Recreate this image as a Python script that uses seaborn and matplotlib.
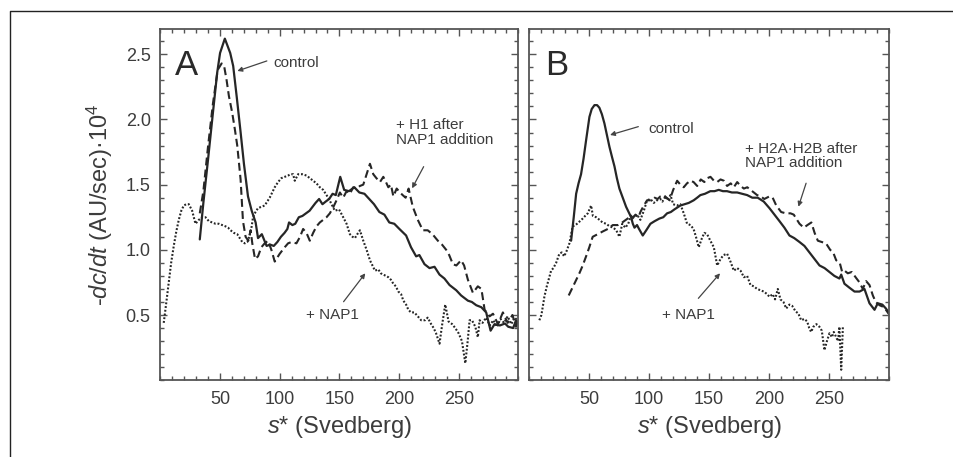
import numpy as np
import pandas as pd
import matplotlib
matplotlib.use("Agg")
import matplotlib.pyplot as plt
import seaborn as sns
from matplotlib.lines import Line2D
from matplotlib.ticker import MultipleLocator

# ---------------- data ----------------
A_ctrl_x = [33, 36, 40, 44, 47.6, 50, 54, 58.5, 61, 64, 67, 70, 73.4, 76.5, 79.8, 81.8, 85, 89, 92, 95,
            98, 101, 104, 106.4, 107.8, 110.6, 113, 116, 119, 122, 125, 127.5, 130, 133, 135.8, 138.5,
            141.4, 144.3, 147, 150.7, 154, 158, 162.5, 166.7, 171, 175, 179, 183.5, 187.7, 191.8, 196,
            200.3, 205.9, 210, 214.3, 217, 221.3, 225.5, 229.7, 233.9, 238, 242.3, 247.9, 252, 257.7,
            261, 264.7, 268.9, 273, 276.7, 280, 284.5, 288.8, 291.5, 295.6, 298, 300]
A_ctrl_y = [1.08, 1.36, 1.70, 2.05, 2.36, 2.51, 2.62, 2.51, 2.41, 2.17, 1.92, 1.66, 1.41, 1.30, 1.21, 1.09,
            1.12, 1.03, 1.04, 1.03, 1.06, 1.10, 1.13, 1.16, 1.21, 1.19, 1.20, 1.25, 1.26, 1.28, 1.30, 1.33,
            1.36, 1.39, 1.35, 1.37, 1.39, 1.43, 1.42, 1.56, 1.46, 1.45, 1.48, 1.44, 1.43, 1.39, 1.35, 1.29,
            1.27, 1.21, 1.20, 1.16, 1.11, 1.02, 0.95, 0.96, 0.89, 0.86, 0.87, 0.81, 0.78, 0.73, 0.69, 0.65,
            0.61, 0.60, 0.575, 0.56, 0.52, 0.38, 0.43, 0.42, 0.435, 0.41, 0.40, 0.46, 0.435]

A_dash_x = [33, 36, 40, 44, 48, 51.3, 53.4, 55.5, 57.4, 60.2, 62.3, 64.4, 67.2, 69.2, 71.4, 73.7, 75.6, 77,
            79.3, 81.8, 84.6, 87.4, 90.2, 93, 95.8, 100, 104.2, 107, 109.8, 114, 117, 119.6, 122.4, 125.2,
            128, 130.8, 133.6, 136.4, 139.2, 142, 145, 147.6, 150.4, 153.2, 156, 158.8, 161.6, 164.4,
            167.2, 170, 172.8, 175.6, 178.4, 181, 184, 186.8, 189, 191, 193.2, 195.2, 198, 200.8, 203,
            205.5, 208, 211.5, 215.7, 219.9, 224, 228, 232.5, 236, 239.5, 242, 245.1, 248, 252, 254.5,
            257.7, 261.9, 266, 269, 271.7, 275.9, 278.7, 282.9, 287, 291, 295, 298, 300]
A_dash_y = [1.28, 1.45, 1.80, 2.12, 2.38, 2.43, 2.41, 2.30, 2.18, 2.05, 1.93, 1.80, 1.54, 1.22, 1.10, 1.07,
            1.15, 1.05, 0.93, 0.95, 1.02, 1.05, 1.07, 1.00, 0.91, 0.97, 1.02, 1.05, 1.06, 1.05, 1.10, 1.16,
            1.13, 1.07, 1.13, 1.18, 1.21, 1.23, 1.25, 1.28, 1.33, 1.38, 1.44, 1.40, 1.45, 1.43, 1.48, 1.47,
            1.49, 1.50, 1.58, 1.66, 1.58, 1.55, 1.52, 1.56, 1.52, 1.48, 1.50, 1.41, 1.47, 1.44, 1.42, 1.40,
            1.47, 1.33, 1.23, 1.15, 1.15, 1.12, 1.07, 1.04, 1.00, 0.96, 0.89, 0.88, 0.92, 0.88, 0.77, 0.67,
            0.72, 0.70, 0.54, 0.49, 0.51, 0.43, 0.52, 0.44, 0.50, 0.41, 0.47]

A_dot_x = [2.8, 5, 7, 9, 11.2, 13.3, 15.4, 17.5, 19.6, 21.7, 23.8, 26.6, 29.4, 32.2, 35, 37.8, 40.6, 43.4,
           46.2, 49, 51.8, 54.6, 56.7, 58.8, 61.6, 64.4, 66.5, 68.6, 70.7, 72.8, 74.5, 76.5, 77.6, 79.7,
           81.8, 84.6, 87.4, 89.5, 91.6, 93.7, 95.8, 98.6, 101.4, 104.2, 107, 109.1, 111.2, 112.6, 115.4,
           118.9, 122.4, 125.2, 128, 130.8, 133.6, 136.4, 139.2, 141.3, 143.4, 146.2, 149.7, 153.2, 156,
           158.8, 161, 163, 165, 167.2, 170, 172.8, 175.6, 177.7, 179.8, 182.6, 184.7, 186.8, 189, 191,
           193.2, 195.2, 197.3, 199.4, 201.7, 203.6, 205.9, 207.8, 210, 212.8, 215.7, 218.5, 221.8, 224,
           226.9, 229, 231, 233.9, 236, 238.7, 241.5, 244.5, 247.1, 249.9, 252.7, 255.5, 257.5, 259.1,
           261.1, 263.9, 266, 267.5, 270, 273, 276, 279, 282, 285, 288, 291, 294, 297, 300]
A_dot_y = [0.44, 0.60, 0.75, 0.90, 1.03, 1.14, 1.23, 1.30, 1.34, 1.35, 1.35, 1.30, 1.20, 1.23, 1.25, 1.25,
           1.22, 1.21, 1.20, 1.20, 1.19, 1.18, 1.17, 1.15, 1.13, 1.12, 1.09, 1.06, 1.05, 1.06, 1.10, 1.18,
           1.25, 1.29, 1.32, 1.33, 1.34, 1.37, 1.40, 1.44, 1.48, 1.52, 1.55, 1.56, 1.57, 1.58, 1.58, 1.53,
           1.58, 1.58, 1.57, 1.55, 1.53, 1.51, 1.48, 1.46, 1.42, 1.39, 1.35, 1.30, 1.31, 1.25, 1.20, 1.12,
           1.10, 1.09, 1.12, 1.15, 1.07, 1.00, 0.92, 0.88, 0.84, 0.85, 0.82, 0.81, 0.80, 0.79, 0.77, 0.74,
           0.72, 0.68, 0.66, 0.61, 0.58, 0.54, 0.52, 0.52, 0.49, 0.46, 0.46, 0.48, 0.43, 0.40, 0.36, 0.28,
           0.42, 0.58, 0.45, 0.43, 0.40, 0.36, 0.30, 0.13, 0.30, 0.46, 0.46, 0.41, 0.33, 0.46, 0.44, 0.48,
           0.42, 0.46, 0.41, 0.47, 0.44, 0.49, 0.43, 0.48, 0.45]

B_ctrl_x = [34.8, 37, 39, 41, 43.1, 45.2, 47.3, 50.1, 52, 54.3, 56.5, 58.4, 60.5, 62.6, 64.7, 66.8, 69, 71,
            73, 75.1, 77.9, 80.7, 82.8, 84.9, 86.3, 87.7, 89.8, 91.5, 94.6, 97.5, 101, 104.5, 108.5, 111.7,
            114.9, 118, 121, 126, 129.5, 133, 137.1, 140, 142.7, 146.5, 151, 154.5, 158, 161.5, 164.9, 169,
            173.4, 177.5, 181.7, 186, 190.5, 195.6, 200.3, 204.5, 208.7, 212.8, 217, 221, 225.4, 229.5,
            233.7, 237.9, 242.1, 246.3, 250.4, 254.5, 258.7, 260.2, 262.9, 267, 271.3, 275.5, 279.6, 283.8,
            288, 290.7, 294.5, 297.5, 300.5]
B_ctrl_y = [1.07, 1.25, 1.43, 1.51, 1.58, 1.70, 1.84, 2.02, 2.08, 2.11, 2.11, 2.09, 2.04, 1.97, 1.88, 1.79,
            1.71, 1.64, 1.55, 1.47, 1.40, 1.33, 1.29, 1.25, 1.20, 1.17, 1.19, 1.16, 1.11, 1.15, 1.20, 1.22,
            1.24, 1.25, 1.28, 1.29, 1.31, 1.34, 1.35, 1.36, 1.38, 1.40, 1.42, 1.43, 1.45, 1.45, 1.46, 1.45,
            1.45, 1.44, 1.44, 1.43, 1.42, 1.40, 1.40, 1.37, 1.32, 1.27, 1.22, 1.17, 1.11, 1.09, 1.06, 1.03,
            0.98, 0.93, 0.88, 0.86, 0.83, 0.80, 0.78, 0.81, 0.74, 0.71, 0.68, 0.68, 0.70, 0.59, 0.54, 0.59,
            0.58, 0.55, 0.51]

B_dash_x = [32.8, 37, 41.7, 44.5, 47.3, 50, 52.8, 57, 61, 65.4, 69.6, 73.8, 77.5, 80.5, 83.5, 86, 88.5, 91,
            92.6, 95.5, 98.2, 101.5, 104.5, 107, 109.3, 112, 114.5, 117, 120, 123.3, 126, 128.8, 131.5,
            134.4, 137, 140, 143, 146, 148.5, 151.1, 154, 156.7, 159.5, 162.3, 165, 168, 170.6, 173.4,
            176.2, 179, 181.8, 184.5, 187.3, 190, 193, 196, 200.3, 203, 206, 210.1, 214, 217.9, 220.6,
            225.4, 229, 232, 235.3, 238, 240.7, 244, 247.5, 251, 253.5, 256, 259, 261, 263, 265.7, 269,
            273, 275.5, 278.2, 281, 283.8, 286.6, 289, 292.2, 296, 300.5]
B_dash_y = [0.65, 0.73, 0.82, 0.88, 0.95, 1.02, 1.10, 1.12, 1.14, 1.16, 1.19, 1.19, 1.21, 1.23, 1.25, 1.24,
            1.27, 1.25, 1.29, 1.34, 1.38, 1.38, 1.40, 1.39, 1.41, 1.42, 1.40, 1.38, 1.46, 1.53, 1.50, 1.48,
            1.51, 1.53, 1.52, 1.49, 1.54, 1.52, 1.55, 1.56, 1.53, 1.52, 1.54, 1.53, 1.49, 1.51, 1.48, 1.52,
            1.49, 1.47, 1.48, 1.46, 1.44, 1.42, 1.41, 1.39, 1.41, 1.40, 1.34, 1.29, 1.28, 1.28, 1.27, 1.20,
            1.17, 1.19, 1.21, 1.13, 1.07, 1.06, 1.05, 1.00, 0.98, 0.92, 0.90, 0.83, 0.84, 0.82, 0.83, 0.78,
            0.75, 0.70, 0.76, 0.73, 0.65, 0.60, 0.575, 0.56, 0.50]

B_dot_x = [8.3, 10, 11.1, 12.5, 14.5, 16, 18.1, 20, 22.3, 25, 27, 29, 31, 33.4, 36.1, 38.5, 41, 44.5, 46.5,
           48.7, 51.5, 53, 55.7, 58.5, 61, 64, 67, 70, 72.5, 75.1, 77.5, 80, 82.5, 84.9, 87, 89.8, 92.6,
           95.5, 98.2, 101, 103.8, 106.5, 109.3, 111, 113.5, 115.5, 117.7, 120, 123, 126, 128.8, 131.6,
           134.4, 137, 139, 141.3, 144, 146, 148.3, 151, 153.9, 156.7, 159.5, 162, 165, 167.8, 170.6,
           173.4, 176.2, 179, 181.7, 184.5, 187.3, 190, 192.8, 195.6, 198.4, 200.3, 203, 205, 207.3,
           209.5, 212, 214.3, 217, 219.3, 222, 224.5, 226.8, 229.5, 231.8, 233.5, 235.1, 237, 239.5, 242,
           244, 246.2, 248.3, 250.4, 252.5, 254, 256, 257.5, 258.7, 260.2, 261.6]
B_dot_y = [0.46, 0.50, 0.56, 0.64, 0.72, 0.77, 0.84, 0.86, 0.90, 0.97, 0.98, 0.95, 0.99, 1.05, 1.18, 1.19,
           1.21, 1.24, 1.26, 1.28, 1.34, 1.26, 1.25, 1.23, 1.21, 1.20, 1.18, 1.17, 1.15, 1.10, 1.20, 1.17,
           1.20, 1.27, 1.25, 1.27, 1.23, 1.30, 1.38, 1.39, 1.36, 1.38, 1.39, 1.37, 1.41, 1.38, 1.42, 1.35,
           1.34, 1.35, 1.28, 1.20, 1.19, 1.16, 1.10, 1.02, 1.09, 1.13, 1.12, 1.07, 1.02, 0.88, 0.93, 0.96,
           0.97, 0.91, 0.84, 0.86, 0.84, 0.79, 0.80, 0.73, 0.72, 0.70, 0.69, 0.68, 0.66, 0.64, 0.66, 0.62,
           0.70, 0.62, 0.60, 0.55, 0.58, 0.57, 0.53, 0.51, 0.46, 0.47, 0.45, 0.40, 0.37, 0.41, 0.43, 0.41,
           0.38, 0.23, 0.30, 0.36, 0.33, 0.37, 0.33, 0.30, 0.41, 0.08, 0.41]

x_ticks = [50, 100, 150, 200, 250]
y_ticks = [0.5, 1.0, 1.5, 2.0, 2.5]
x_tick_labels = ["50", "100", "150", "200", "250"]
y_tick_labels = ["0.5", "1.0", "1.5", "2.0", "2.5"]

# ---------------- style ----------------
sns.set_style("ticks")
plt.rcParams["font.family"] = ["Liberation Sans", "DejaVu Sans"]
plt.rcParams["mathtext.fontset"] = "custom"
plt.rcParams["mathtext.rm"] = "Liberation Sans"
plt.rcParams["mathtext.it"] = "Liberation Sans:italic"
plt.rcParams["mathtext.bf"] = "Liberation Sans:bold"

LINE = "#262626"
TXT = "#3c3c3c"
AX = "#555555"

W, H = 954, 457
fig = plt.figure(figsize=(W / 100, H / 100), dpi=100)
axA = fig.add_axes([160.4 / W, 1 - 380.2 / H, 358 / W, 351.2 / H])
axB = fig.add_axes([529.4 / W, 1 - 380.2 / H, 359.5 / W, 351.2 / H])

# outer frame (top and left only visible)
fig.add_artist(Line2D([10 / W, 10 / W, 1.0], [0.0, 1 - 11 / H, 1 - 11 / H],
                      transform=fig.transFigure, color="#222222", lw=1.0))

styles = {
    "solid": dict(linestyle="-", linewidth=1.6),
    "dash": dict(linestyle=(0, (3.8, 2.0)), linewidth=1.5),
    "dot": dict(linestyle=(0, (0.9, 0.9)), linewidth=1.5),
}


def draw(ax, xs, ys, kind):
    df = pd.DataFrame({"s": xs, "v": ys})
    sns.lineplot(data=df, x="s", y="v", ax=ax, color=LINE, estimator=None, sort=False, **styles[kind])


draw(axA, A_dot_x, A_dot_y, "dot")
draw(axA, A_dash_x, A_dash_y, "dash")
draw(axA, A_ctrl_x, A_ctrl_y, "solid")
draw(axB, B_dot_x, B_dot_y, "dot")
draw(axB, B_dash_x, B_dash_y, "dash")
draw(axB, B_ctrl_x, B_ctrl_y, "solid")

for ax in (axA, axB):
    ax.set_xlim(0, 300)
    ax.set_ylim(0, 2.694)
    ax.set_xticks(x_ticks)
    ax.set_xticklabels(x_tick_labels)
    ax.set_yticks(y_ticks)
    ax.set_yticklabels(y_tick_labels)
    ax.xaxis.set_minor_locator(MultipleLocator(10))
    ax.yaxis.set_minor_locator(MultipleLocator(0.1))
    ax.tick_params(which="both", direction="in", top=True, right=True, color=AX, width=1.0)
    ax.tick_params(which="major", length=5)
    ax.tick_params(which="minor", length=3)
    ax.tick_params(axis="both", labelsize=13, labelcolor=TXT)
    ax.tick_params(axis="x", pad=8)
    ax.tick_params(axis="y", pad=7)
    for sp in ax.spines.values():
        sp.set_color(AX)
        sp.set_linewidth(1.3)
    ax.set_xlabel(r"$s$* (Svedberg)", fontsize=17, color=TXT, labelpad=4)
    ax.set_ylabel("")

axB.tick_params(axis="y", labelleft=False)
axA.set_ylabel(r"-$dc/dt$ (AU/sec)·10$^4$", fontsize=17, color=TXT, labelpad=8)

arrow = dict(arrowstyle="-|>", color="#444444", lw=0.9, mutation_scale=7, shrinkA=0, shrinkB=0)

# Panel A annotations
axA.text(12, 2.34, "A", fontsize=25, color="#2a2a2a", ha="left", va="baseline")
axA.text(94.5, 2.40, "control", fontsize=11, color=TXT, ha="left", va="baseline")
axA.annotate("", xy=(64.5, 2.372), xytext=(89.2, 2.449), arrowprops=arrow)
axA.text(197.6, 2.01, "+ H1 after\nNAP1 addition", fontsize=11, color=TXT, ha="left", va="top",
         linespacing=1.05)
axA.annotate("", xy=(210.9, 1.472), xytext=(220.6, 1.638), arrowprops=arrow)
axA.text(144.3, 0.50, "+ NAP1", fontsize=11, color=TXT, ha="center", va="center")
axA.annotate("", xy=(171.7, 0.82), xytext=(153.5, 0.602), arrowprops=arrow)

# Panel B annotations
axB.text(13, 2.34, "B", fontsize=25, color="#2a2a2a", ha="left", va="baseline")
axB.text(98.9, 1.90, "control", fontsize=11, color=TXT, ha="left", va="baseline")
axB.annotate("", xy=(67.3, 1.881), xytext=(90.9, 1.945), arrowprops=arrow)
axB.text(180, 1.83, "+ H2A·H2B after\nNAP1 addition", fontsize=11, color=TXT, ha="left", va="top",
         linespacing=1.05)
axB.annotate("", xy=(224.5, 1.331), xytext=(230.9, 1.511), arrowprops=arrow)
axB.text(132.3, 0.50, "+ NAP1", fontsize=11, color=TXT, ha="center", va="center")
axB.annotate("", xy=(159.1, 0.82), xytext=(141, 0.628), arrowprops=arrow)

fig.savefig("out.png", dpi=100)
